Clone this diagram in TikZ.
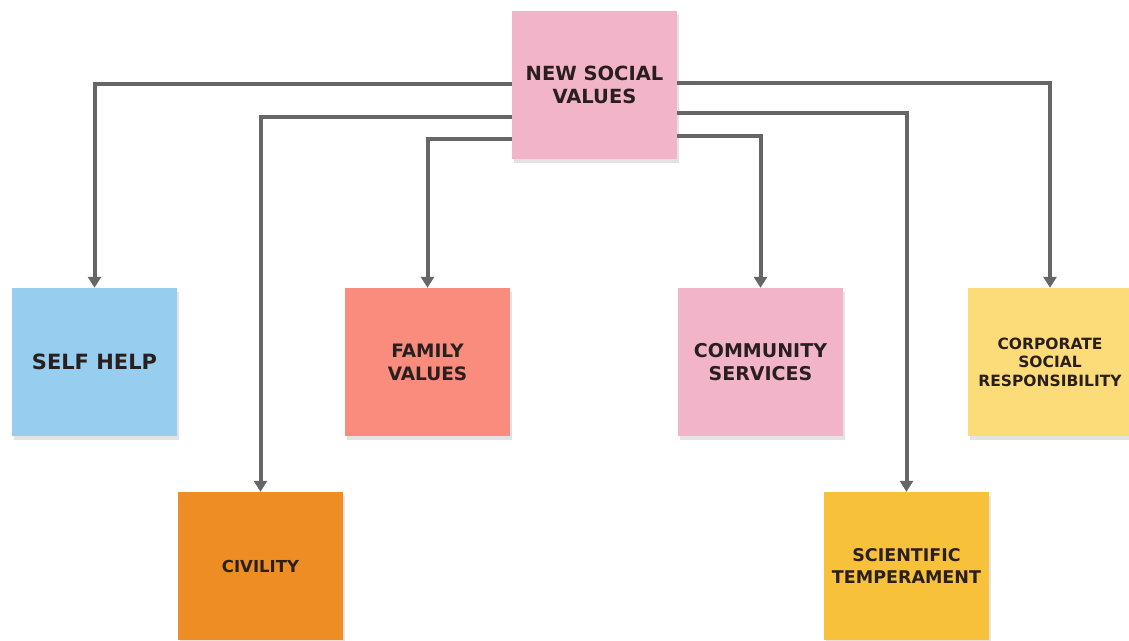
\documentclass[tikz,border=0pt]{standalone}
\usepackage{fontspec}
\setmainfont{DejaVu Sans}
\usepackage{tikz}
\usetikzlibrary{positioning}
\usetikzlibrary{calc,shadows}
\usetikzlibrary{arrows.meta}
\definecolor{notepink}{HTML}{F2B4C9}
\definecolor{noteblue}{HTML}{97CEEF}
\definecolor{notesalmon}{HTML}{F98C7C}
\definecolor{noteyellow}{HTML}{FCDC78}
\definecolor{noteorange}{HTML}{EE8D23}
\definecolor{notegold}{HTML}{F8C13A}
\definecolor{linkgray}{HTML}{666666}
\definecolor{inkdark}{HTML}{2A1F1F}
\newcommand{\notefont}[2]{\bfseries\fontsize{#1}{#2}\selectfont}
\tikzstyle{link} = [draw=linkgray, line width=4pt, -{Triangle[width=13pt,length=11pt]}]
\begin{document}
\begin{tikzpicture}[x=1pt, y=-1pt,
	note/.style={minimum width=165pt, minimum height=148pt, inner sep=0pt,
	align=center, text=inkdark,
	drop shadow={shadow xshift=2pt, shadow yshift=-4pt, opacity=0.22}}]
	\useasboundingbox (0,0) rectangle (1129,640);
	\node [note, fill=notepink, font=\notefont{19.5}{23}] (nsv) at (594.5,85)
	{NEW SOCIAL\\VALUES};
	%%
	\node [note, fill=noteblue, font=\notefont{21}{25}] (selfhelp) at (94.5,362)
	{SELF HELP};
	\node [note, fill=notesalmon, font=\notefont{18.5}{23}] (family) at (427.5,362)
	{FAMILY\\VALUES};
	\node [note, fill=notepink, font=\notefont{19}{23}] (community) at (760.5,362)
	{COMMUNITY\\SERVICES};
	\node [note, fill=noteyellow, font=\notefont{15.5}{18.5}] (corporate) at (1050,362)
	{CORPORATE\\SOCIAL\\RESPONSIBILITY};
	%%
	\node [note, fill=noteorange, font=\notefont{16.5}{20}] (civility) at (260.5,566)
	{CIVILITY};
	\node [note, fill=notegold, font=\notefont{17.5}{22}] (scientific) at (906.5,566)
	{SCIENTIFIC\\TEMPERAMENT};
	%% Arrows
	\path [link] ($(nsv.north west)+(0,73)$) -| (selfhelp.north);
	\path [link] ($(nsv.north west)+(0,106)$) -| (civility.north);
	\path [link] ($(nsv.north west)+(0,128)$) -| (family.north);
	\path [link] ($(nsv.north east)+(0,125)$) -| (community.north);
	\path [link] ($(nsv.north east)+(0,102)$) -| (scientific.north);
	\path [link] ($(nsv.north east)+(0,72)$) -| (corporate.north);
\end{tikzpicture}
\end{document}
